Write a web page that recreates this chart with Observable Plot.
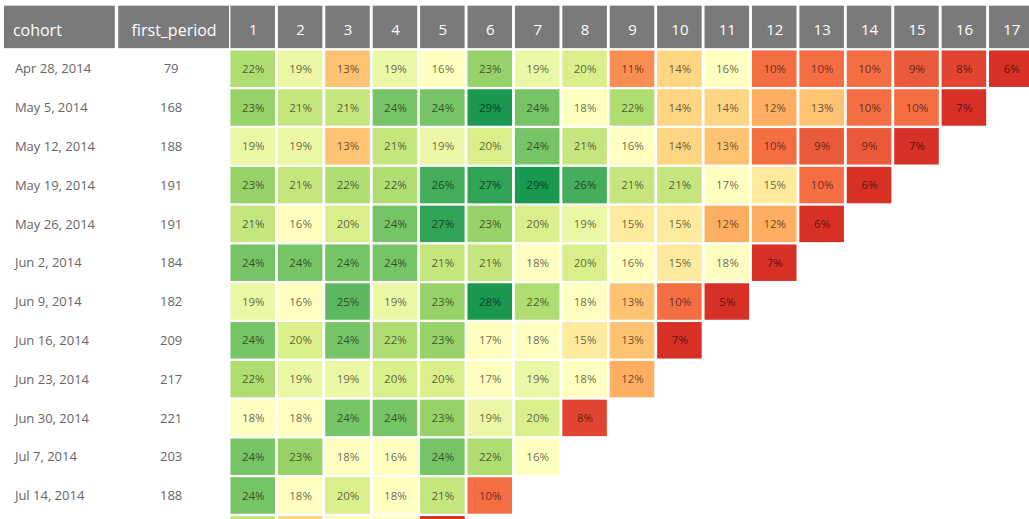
<!DOCTYPE html>
<html><head><meta charset="utf-8">
<script src="https://cdn.jsdelivr.net/npm/d3@7"></script>
<script src="https://cdn.jsdelivr.net/npm/@observablehq/plot@0.6"></script>
<style>
html,body{margin:0;padding:0;background:#fff;overflow:hidden;}
#wrap{display:flex;align-items:flex-start;width:1029px;height:519px;overflow:hidden;}
#wrap svg{flex:none;display:block;height:560px !important;max-width:none !important;}
</style></head><body><div id="wrap"></div>
<script>
// ---- data ----
const cohorts = ["Apr 28, 2014","May 5, 2014","May 12, 2014","May 19, 2014","May 26, 2014","Jun 2, 2014",
  "Jun 9, 2014","Jun 16, 2014","Jun 23, 2014","Jun 30, 2014","Jul 7, 2014","Jul 14, 2014","Jul 21, 2014"];
const firstPeriod = [79,168,188,191,191,184,182,209,217,221,203,188,196];
const periods = ["1","2","3","4","5","6","7","8","9","10","11","12","13","14","15","16","17"];
const headers = ["cohort","first_period"];
const r01 = [22,19,13,19,16,23,19,20,11,14,16,10,10,10,9,8,6];
const r02 = [23,21,21,24,24,29,24,18,22,14,14,12,13,10,10,7];
const r03 = [19,19,13,21,19,20,24,21,16,14,13,10,9,9,7];
const r04 = [23,21,22,22,26,27,29,26,21,21,17,15,10,6];
const r05 = [21,16,20,24,27,23,20,19,15,15,12,12,6];
const r06 = [24,24,24,24,21,21,18,20,16,15,18,7];
const r07 = [19,16,25,19,23,28,22,18,13,10,5];
const r08 = [24,20,24,22,23,17,18,15,13,7];
const r09 = [22,19,19,20,20,17,19,18,12];
const r10 = [18,18,24,24,23,19,20,8];
const r11 = [24,23,18,16,24,22,16];
const r12 = [24,18,20,18,21,10];
const r13 = [21,14,17,18,7];
const retention = [r01,r02,r03,r04,r05,r06,r07,r08,r09,r10,r11,r12,r13];

// ---- derived tables ----
const HEADER = "__header";
const cells = cohorts.flatMap((c, i) => retention[i].map((v, j) => ({cohort: c, period: periods[j], value: v, row: i})));
const rows = cohorts.map((c, i) => ({cohort: c, fp: firstPeriod[i], row: i}));
// the last cohort row is cut off by the frame's bottom edge: only its cells' top edges show
const visibleRow = d => d.row < cohorts.length - 1;

const H = 560;
const yScale = {domain: [HEADER, ...cohorts], axis: null, paddingInner: 0.06, paddingOuter: 0.03, round: false};
const font = "'Open Sans', Lato, sans-serif";
const headFill = "#7a7a7a";

const left = Plot.plot({
  width: 229, height: H, marginLeft: 4, marginRight: 0, marginTop: 10.5, marginBottom: 6.3,
  style: {fontFamily: font, background: "white"},
  x: {domain: headers, axis: null, paddingInner: 0.03, paddingOuter: 0, round: false},
  y: yScale,
  marks: [
    Plot.cell(headers, {x: d => d, y: () => HEADER, fill: headFill, insetTop: -6}),
    Plot.text(["cohort"], {x: d => d, y: () => HEADER, text: d => d, textAnchor: "start", dx: -47, fill: "white", fontSize: 16}),
    Plot.text(["first_period"], {x: d => d, y: () => HEADER, text: d => d, fill: "white", fontSize: 16}),
    Plot.text(rows, {filter: visibleRow, x: () => "cohort", y: "cohort", text: "cohort", textAnchor: "start", dx: -45, fill: "#666", fontSize: 13}),
    Plot.text(rows, {filter: visibleRow, x: () => "first_period", y: "cohort", text: d => String(d.fp), dx: -3, fill: "#666", fontSize: 13})
  ]
});

const right = Plot.plot({
  width: 806, height: H, marginLeft: 0, marginRight: 0, marginTop: 10.5, marginBottom: 6.3,
  style: {fontFamily: font, background: "white"},
  x: {domain: periods, axis: null, paddingInner: 0.06, paddingOuter: 0.03, round: false},
  y: yScale,
  color: {
    type: "linear",
    domain: [7, 10, 12, 14.5, 16, 18, 20, 22.5, 24.5, 28],
    range: ["#d73027","#f46d43","#fdae61","#fee08b","#ffffbf","#fdfebf","#d9ef8b","#a6d96a","#66bd63","#1a9850"],
    clamp: true
  },
  marks: [
    Plot.cell(periods, {x: d => d, y: () => HEADER, fill: headFill, insetTop: -6}),
    Plot.text(periods, {x: d => d, y: () => HEADER, text: d => d, fill: "white", fontSize: 15}),
    Plot.cell(cells, {x: "period", y: "cohort", fill: "value"}),
    Plot.text(cells, {filter: visibleRow, x: "period", y: "cohort", text: d => d.value + "%", fill: "black", fillOpacity: 0.62, fontSize: 11.5})
  ]
});

document.getElementById("wrap").append(left, right);
</script>
</body></html>
